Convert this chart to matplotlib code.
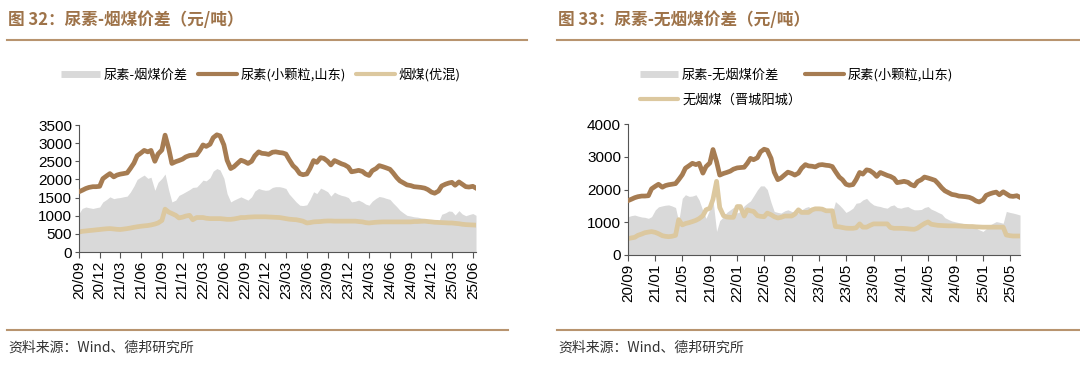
import matplotlib
matplotlib.use("Agg")
import matplotlib.pyplot as plt
from matplotlib.lines import Line2D
import pandas as pd

plt.rcParams['font.family'] = ['Noto Sans CJK SC', 'DejaVu Sans']

# semi-monthly dates, 2020-09 .. 2025-07
dates = pd.date_range('2020-09-01', periods=116, freq='SMS')

urea = [1660, 1700, 1750, 1780, 1800, 1800, 1810, 2020, 2100, 2160, 2070, 2120,
        2145, 2160, 2180, 2300, 2450, 2650, 2730, 2800, 2760, 2800, 2500, 2700,
        2810, 3220, 2850, 2440, 2490, 2520, 2560, 2620, 2660, 2670, 2680, 2800,
        2950, 2910, 2970, 3150, 3230, 3200, 2950, 2530, 2300, 2350, 2450, 2530,
        2490, 2440, 2500, 2650, 2760, 2720, 2710, 2690, 2750, 2760, 2740, 2730,
        2700, 2550, 2380, 2300, 2160, 2130, 2150, 2300, 2520, 2470, 2600, 2580,
        2500, 2400, 2520, 2480, 2430, 2400, 2340, 2210, 2230, 2250, 2220, 2150,
        2110, 2240, 2300, 2380, 2350, 2320, 2280, 2180, 2050, 1960, 1900, 1850,
        1830, 1800, 1790, 1780, 1760, 1720, 1650, 1620, 1680, 1820, 1870, 1900,
        1920, 1840, 1930, 1870, 1800, 1790, 1810, 1760]

coal = [550, 570, 580, 590, 600, 610, 620, 630, 640, 645, 635, 625,
        620, 630, 645, 660, 680, 695, 710, 720, 730, 745, 770, 800,
        870, 1180, 1100, 1060, 1010, 940, 960, 990, 1010, 890, 950, 950,
        950, 930, 920, 920, 920, 920, 910, 900, 900, 910, 930, 950,
        950, 960, 965, 970, 970, 970, 970, 965, 960, 955, 950, 935,
        920, 905, 895, 890, 870, 850, 800, 810, 830, 835, 840, 850,
        855, 855, 850, 850, 850, 850, 850, 850, 850, 840, 830, 810,
        800, 810, 820, 825, 830, 830, 830, 830, 830, 830, 830, 830,
        830, 840, 840, 845, 850, 840, 830, 820, 815, 810, 805, 800,
        800, 790, 780, 765, 755, 750, 745, 740]

spread_coal = [1060, 1200, 1240, 1220, 1200, 1220, 1240, 1380, 1450, 1520, 1470, 1490,
               1500, 1520, 1540, 1650, 1820, 2000, 2070, 2120, 2030, 2060, 1700, 1920,
               2030, 2150, 1700, 1380, 1430, 1560, 1610, 1660, 1720, 1780, 1790, 1880,
               1980, 1960, 2050, 2230, 2300, 2260, 2030, 1610, 1380, 1430, 1480, 1520,
               1470, 1430, 1520, 1680, 1750, 1720, 1700, 1710, 1780, 1800, 1800, 1780,
               1750, 1600, 1480, 1380, 1290, 1280, 1300, 1450, 1660, 1610, 1760, 1720,
               1660, 1540, 1650, 1600, 1560, 1540, 1500, 1380, 1400, 1430, 1380, 1320,
               1290, 1400, 1480, 1530, 1510, 1480, 1450, 1350, 1250, 1150, 1070, 1010,
               990, 970, 960, 940, 920, 900, 860, 790, 830, 1040, 1080, 1130,
               1120, 1020, 1140, 1050, 1000, 1030, 1060, 1010]

anthracite = [500, 520, 540, 600, 640, 680, 700, 715, 690, 650, 590, 570,
              560, 570, 600, 1080, 920, 960, 990, 1020, 1060, 1110, 1200, 1380,
              1430, 1700, 2250, 1450, 1200, 1160, 1150, 1150, 1480, 1480, 1190, 1380,
              1350, 1330, 1200, 1180, 1170, 1280, 1230, 1170, 1130, 1150, 1190, 1190,
              1190, 1250, 1380, 1300, 1300, 1300, 1380, 1410, 1410, 1400, 1350, 1350,
              1350, 870, 860, 840, 820, 815, 815, 830, 950, 850, 850, 900,
              950, 950, 950, 950, 950, 840, 815, 815, 815, 810, 800, 790,
              785, 820, 900, 960, 1010, 940, 920, 905, 900, 895, 890, 890,
              890, 885, 880, 875, 870, 870, 860, 855, 850, 850, 850, 850,
              850, 850, 850, 610, 590, 580, 580, 580]

spread_anth = [1170, 1200, 1220, 1190, 1160, 1150, 1120, 1170, 1380, 1470, 1500, 1520,
               1530, 1500, 1450, 1020, 1730, 1840, 1790, 1800, 1840, 1680, 1350, 1120,
               1400, 1680, 720, 1050, 1170, 1300, 1380, 1450, 1280, 1330, 1500, 1580,
               1650, 1800, 1990, 2110, 2110, 2000, 1600, 1330, 1300, 1280, 1350, 1380,
               1330, 1300, 1280, 1380, 1450, 1480, 1380, 1380, 1380, 1360, 1330, 1300,
               1280, 1630, 1530, 1430, 1300, 1350, 1430, 1580, 1600, 1680, 1730, 1620,
               1530, 1500, 1480, 1450, 1430, 1500, 1530, 1450, 1430, 1460, 1480, 1420,
               1380, 1380, 1390, 1450, 1480, 1400, 1350, 1300, 1250, 1140, 1080, 1040,
               1010, 990, 970, 940, 910, 880, 820, 770, 720, 800, 920, 970,
               1020, 1000, 970, 1330, 1300, 1280, 1250, 1220]

titles = ['图 32：尿素-烟煤价差（元/吨）', '图 33：尿素-无烟煤价差（元/吨）']
labels_left = ['尿素-烟煤价差', '尿素(小颗粒,山东)', '烟煤(优混)']
labels_right = ['尿素-无烟煤价差', '无烟煤（晋城阳城）', '尿素(小颗粒,山东)']
source = '资料来源：Wind、德邦研究所'

ticks_left = pd.date_range('2020-09-01', '2025-06-01', freq='3MS')
ticks_right = pd.date_range('2020-09-01', '2025-05-01', freq='4MS')

C_UREA = '#A67C52'
C_COAL = '#DCC89F'
C_GRAY = '#D9D9D9'
C_TITLE = '#9E7349'
C_RULE = '#B8946F'

W, H = 1080, 376
fig = plt.figure(figsize=(W / 100, H / 100), dpi=100)


def fx(px):
    return px / W


def fy(py):
    return 1 - py / H


def draw(ax, spread, other, ymax, ystep, ticks):
    ax.fill_between(dates, 0, spread, color=C_GRAY, lw=0, zorder=1)
    ax.plot(dates, urea, color=C_UREA, lw=3.4, zorder=3)
    ax.plot(dates, other, color=C_COAL, lw=3.4, zorder=2)
    ax.set_xlim(dates[0], dates[-1])
    ax.set_ylim(0, ymax)
    ax.set_yticks(range(0, ymax + 1, ystep))
    ax.set_xticks(ticks)
    ax.set_xticklabels([d.strftime('%y/%m') for d in ticks], rotation=90)
    for s in ['top', 'right']:
        ax.spines[s].set_visible(False)
    for s in ['left', 'bottom']:
        ax.spines[s].set_color('#555555')
        ax.spines[s].set_linewidth(0.8)
    ax.tick_params(axis='both', colors='#555555', labelcolor='black',
                   labelsize=11, width=0.8)
    ax.tick_params(axis='y', length=3, pad=2)
    ax.tick_params(axis='x', length=4, pad=2)
    for lab in ax.get_xticklabels() + ax.get_yticklabels():
        lab.set_family(['Liberation Sans', 'DejaVu Sans'])


# left chart
ax1 = fig.add_axes([fx(79), fy(252), fx(476 - 79), (252 - 125) / H])
draw(ax1, spread_coal, coal, 3500, 500, ticks_left)

# right chart
ax2 = fig.add_axes([fx(628), fy(255), fx(1020 - 628), (255 - 124) / H])
draw(ax2, spread_anth, anthracite, 4000, 1000, ticks_right)

h_gray = Line2D([], [], color=C_GRAY, lw=5, solid_capstyle='butt')
h_urea = Line2D([], [], color=C_UREA, lw=3, solid_capstyle='round')
h_coal = Line2D([], [], color=C_COAL, lw=3, solid_capstyle='round')

fig.legend([h_gray, h_urea, h_coal], labels_left, loc='center',
           bbox_to_anchor=(fx(261), fy(75)), ncol=3, frameon=False,
           fontsize=9.5, handlelength=2.9, handletextpad=0.3,
           columnspacing=0.8)
fig.legend([h_gray, h_coal, h_urea], labels_right, loc='upper left',
           bbox_to_anchor=(fx(628), fy(56)), ncol=2, frameon=False,
           fontsize=9.5, handlelength=2.9, handletextpad=0.3,
           columnspacing=0.3, labelspacing=0.9)

# titles, rules, source
for x0, x1, x1b, t in [(7, 527, 508, titles[0]), (557, 1080, 1080, titles[1])]:
    fig.text(fx(x0 + 1), fy(20), t, fontsize=12, fontweight='bold',
             color=C_TITLE, va='center', ha='left')
    fig.add_artist(Line2D([fx(x0), fx(x1)], [fy(40), fy(40)], color=C_RULE, lw=1.5))
    fig.add_artist(Line2D([fx(x0), fx(x1b)], [fy(330), fy(330)], color=C_RULE, lw=1.5))
    fig.text(fx(x0 + 1), fy(348), source, fontsize=10, color='#333333',
             va='center', ha='left')

fig.savefig('out.png', dpi=100)
